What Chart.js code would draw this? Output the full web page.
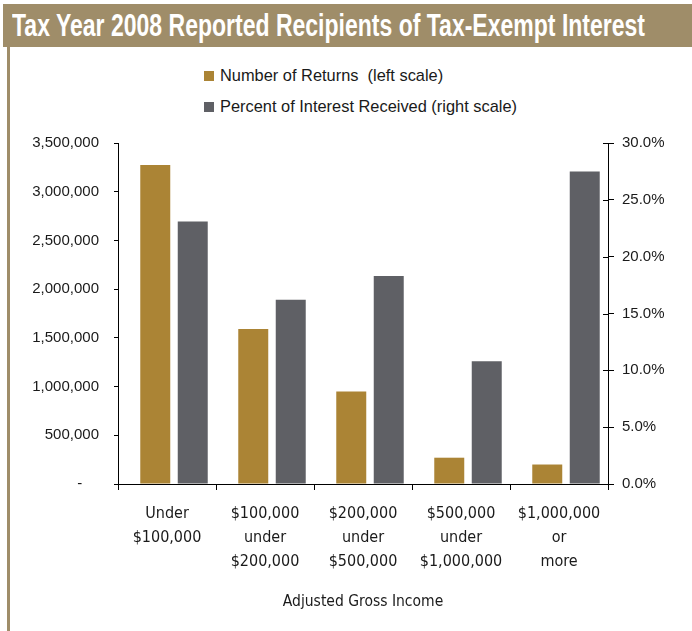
<!DOCTYPE html>
<html>
<head>
<meta charset="utf-8">
<script src="https://cdn.jsdelivr.net/npm/chart.js@4.4.1/dist/chart.umd.min.js"></script>
<style>
  body { margin: 0; background: #fff; width: 692px; height: 631px; overflow: hidden; position: relative; }
  #titleBar {
    position: absolute; left: 3px; top: 4px; width: 689px; height: 43px;
    background: #9f8d69; overflow: hidden;
  }
  #titleText {
    position: absolute; left: 9px; top: 0; display: inline-block;
    color: #fff; font-family: "Liberation Sans", Arial, sans-serif;
    font-weight: bold; font-size: 32px; line-height: 43px;
    white-space: nowrap; transform-origin: 0 0;
  }
  #leftBorder { position: absolute; left: 7px; top: 47px; width: 3px; height: 584px; background: #9f8d69; }
  #legend {
    position: absolute; left: 204px; top: 62px;
    font-family: "Liberation Sans", Arial, sans-serif;
    font-size: 17px; color: #1a1a1a;
  }
  .item { height: 31px; line-height: 28px; white-space: pre; }
  .box { display: inline-block; width: 10px; height: 10px; margin-right: 6px; vertical-align: 0px; }
  .txt { display: inline-block; transform-origin: 0 50%; }
  #wrap { position: absolute; left: 0; top: 0; width: 692px; height: 631px; }
</style>
</head>
<body>
<div id="titleBar"><span id="titleText">Tax Year 2008 Reported Recipients of Tax-Exempt Interest</span></div>
<div id="leftBorder"></div>
<div id="legend"></div>
<div id="wrap"><canvas id="chart"></canvas></div>
<script>
var categories = [
    ['Under', '$100,000'],
    ['$100,000', 'under', '$200,000'],
    ['$200,000', 'under', '$500,000'],
    ['$500,000', 'under', '$1,000,000'],
    ['$1,000,000', 'or', 'more']
];
var numberOfReturns = [3275000, 1590000, 950000, 270000, 200000];
var percentOfInterest = [23.1, 16.2, 18.3, 10.8, 27.5];
var leftTicks = [0, 500000, 1000000, 1500000, 2000000, 2500000, 3000000, 3500000];
var rightTicks = [0, 5, 10, 15, 20, 25, 30];

var narrow = '"DejaVu Sans Condensed", "Liberation Sans", sans-serif';
var regular = '"Liberation Sans", Arial, sans-serif';

// squeeze a text span horizontally to a given width (no condensed font installed)
function squeeze(el, width) {
    var w = el.getBoundingClientRect().width;
    el.style.transform = 'scaleX(' + (width / w) + ')';
}
squeeze(document.getElementById('titleText'), 633);

// in the original the bar pairs sit a little right of the category centres
var barShift = {
    id: 'barShift',
    beforeDatasetsDraw: function(chart) {
        chart.ctx.save();
        chart.ctx.translate(7, 0);
    },
    afterDatasetsDraw: function(chart) {
        chart.ctx.restore();
    }
};

// right axis ticks also cross into the plot
var innerTicks = {
    id: 'innerTicks',
    afterDraw: function(chart) {
        var s = chart.scales.yRight;
        var c = chart.ctx;
        c.save();
        c.strokeStyle = '#000';
        c.lineWidth = 1;
        s.ticks.forEach(function(t) {
            var y = Math.round(s.getPixelForValue(t.value)) + 0.5;
            c.beginPath();
            c.moveTo(s.left - 5, y);
            c.lineTo(s.left, y);
            c.stroke();
        });
        c.restore();
    }
};

var ctx = document.getElementById('chart').getContext('2d');
var chart = new Chart(ctx, {
    type: 'bar',
    data: {
        labels: categories,
        datasets: [{
            label: 'Number of Returns  (left scale)',
            data: numberOfReturns,
            backgroundColor: '#ab8435',
            yAxisID: 'yLeft',
            categoryPercentage: 0.765,
            barPercentage: 0.8
        }, {
            label: 'Percent of Interest Received (right scale)',
            data: percentOfInterest,
            backgroundColor: '#5f6065',
            yAxisID: 'yRight',
            categoryPercentage: 0.765,
            barPercentage: 0.8
        }]
    },
    plugins: [barShift, innerTicks],
    options: {
        responsive: true,
        maintainAspectRatio: false,
        animation: false,
        layout: { padding: { top: 143, left: 0, right: 0, bottom: 0 } },
        plugins: {
            legend: { display: false },
            tooltip: { enabled: false }
        },
        scales: {
            x: {
                grid: { offset: true, drawOnChartArea: false, tickLength: 6, color: '#000' },
                border: { color: '#000' },
                ticks: {
                    color: '#1a1a1a',
                    font: { family: narrow, size: 16, lineHeight: 1.5 },
                    padding: 12,
                    maxRotation: 0,
                    autoSkip: false
                },
                title: {
                    display: true,
                    text: 'Adjusted Gross Income',
                    color: '#1a1a1a',
                    font: { family: narrow, size: 15.5 },
                    padding: { top: 0, bottom: 20 }
                },
                afterFit: function(scale) { scale.height = 147; }
            },
            yLeft: {
                position: 'left',
                min: 0,
                max: 3500000,
                afterBuildTicks: function(scale) {
                    scale.ticks = leftTicks.map(function(v) { return { value: v }; });
                },
                grid: { drawOnChartArea: false, tickLength: 4, color: '#000' },
                border: { color: '#000' },
                ticks: {
                    color: '#1a1a1a',
                    font: { family: regular, size: 15 },
                    padding: 15,
                    callback: function(v) {
                        return v === 0 ? '-    ' : v.toLocaleString('en-US');
                    }
                },
                afterFit: function(scale) { scale.width = 118; }
            },
            yRight: {
                position: 'right',
                min: 0,
                max: 30,
                afterBuildTicks: function(scale) {
                    scale.ticks = rightTicks.map(function(v) { return { value: v }; });
                },
                grid: { drawOnChartArea: false, tickLength: 6, color: '#000' },
                border: { color: '#000' },
                ticks: {
                    color: '#1a1a1a',
                    font: { family: regular, size: 15 },
                    padding: 8,
                    callback: function(v) { return v.toFixed(1) + '%'; }
                },
                afterFit: function(scale) { scale.width = 84; }
            }
        }
    }
});

// legend stacked in two rows, built from the datasets
var legendDiv = document.getElementById('legend');
var spans = [];
chart.data.datasets.forEach(function(ds) {
    var row = document.createElement('div');
    row.className = 'item';
    var box = document.createElement('span');
    box.className = 'box';
    box.style.background = ds.backgroundColor;
    row.appendChild(box);
    var txt = document.createElement('span');
    txt.className = 'txt';
    txt.textContent = ds.label;
    row.appendChild(txt);
    legendDiv.appendChild(row);
    spans.push(txt);
});
var k = 297 / spans[1].getBoundingClientRect().width;
spans.forEach(function(s) { s.style.transform = 'scaleX(' + k + ')'; });
</script>
</body>
</html>
